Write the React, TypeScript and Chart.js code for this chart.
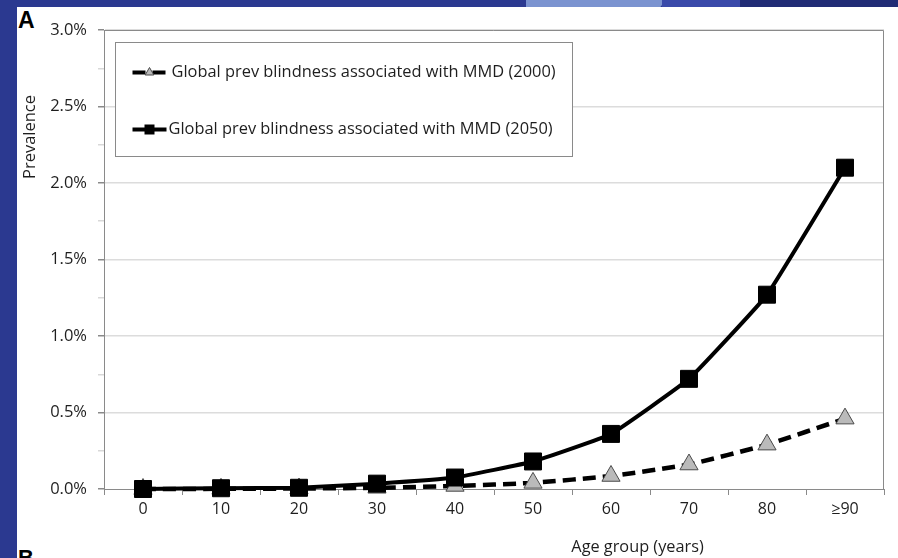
import React, { useEffect, useRef } from "react";
import { Chart, registerables } from "chart.js";

Chart.register(...registerables);

const categories = ["0", "10", "20", "30", "40", "50", "60", "70", "80", "≥90"];
const prev2000 = [0.0, 0.001, 0.003, 0.008, 0.02, 0.04, 0.085, 0.16, 0.29, 0.46];
const prev2050 = [0.0, 0.005, 0.008, 0.035, 0.075, 0.18, 0.36, 0.72, 1.27, 2.1];
const seriesLabels = [
  "Global prev blindness associated with MMD (2000)",
  "Global prev blindness associated with MMD (2050)",
];
const yTitle = "Prevalence";
const xTitle = "Age group (years)";

const FONT = "'Open Sans', 'Noto Sans', sans-serif";

const framePlugin = {
  id: "frame",
  afterDatasetsDraw(chart: any) {
    const { ctx, chartArea: a } = chart;
    ctx.save();
    ctx.strokeStyle = "#8a8a8a";
    ctx.lineWidth = 1;
    ctx.beginPath();
    ctx.moveTo(a.left, a.top + 0.5);
    ctx.lineTo(a.right - 0.5, a.top + 0.5);
    ctx.lineTo(a.right - 0.5, a.bottom);
    ctx.stroke();
    ctx.restore();
  },
  afterDraw(chart: any) {
    const { ctx, chartArea: a } = chart;
    ctx.save();
    ctx.fillStyle = "#1e1e1e";
    ctx.font = `16.3px ${FONT}`;
    ctx.textAlign = "center";
    ctx.textBaseline = "middle";
    ctx.fillText(xTitle, a.left + (a.right - a.left) * 0.684, a.bottom + 58);
    ctx.font = `16.5px ${FONT}`;
    ctx.translate(a.left - 74, a.top + 107);
    ctx.rotate(-Math.PI / 2);
    ctx.fillText(yTitle, 0, 0);
    ctx.restore();

    // legend
    ctx.save();
    const bx = a.left + 11.5;
    const by = a.top + 12.5;
    const bw = 457;
    const bh = 114;
    ctx.fillStyle = "#ffffff";
    ctx.fillRect(bx, by, bw, bh);
    ctx.strokeStyle = "#8a8a8a";
    ctx.lineWidth = 1;
    ctx.strokeRect(bx, by, bw, bh);
    const rows = [by + 30, by + 87];
    chart.data.datasets.forEach((ds: any, i: number) => {
      const y = rows[i];
      const x0 = bx + 17;
      const x1 = bx + 51;
      const cx = (x0 + x1) / 2;
      ctx.save();
      ctx.strokeStyle = ds.borderColor;
      ctx.lineWidth = 4;
      ctx.setLineDash(ds.borderDash && ds.borderDash.length ? [13, 7] : []);
      ctx.beginPath();
      ctx.moveTo(x0, y);
      ctx.lineTo(x1, y);
      ctx.stroke();
      ctx.restore();
      ctx.save();
      ctx.fillStyle = ds.pointBackgroundColor;
      ctx.strokeStyle = ds.pointBorderColor;
      ctx.lineWidth = 1;
      ctx.beginPath();
      if (ds.pointStyle === "triangle") {
        const r = 5;
        ctx.moveTo(cx, y - r);
        ctx.lineTo(cx + r * 0.866, y + r * 0.5);
        ctx.lineTo(cx - r * 0.866, y + r * 0.5);
        ctx.closePath();
        ctx.fill();
        ctx.stroke();
      } else {
        ctx.rect(cx - 5, y - 5, 10, 10);
        ctx.fill();
      }
      ctx.restore();
      ctx.fillStyle = "#1e1e1e";
      ctx.font = `16.4px ${FONT}`;
      ctx.textAlign = "left";
      ctx.textBaseline = "middle";
      ctx.fillText(ds.label, i === 0 ? bx + 56 : bx + 53, y);
    });
    ctx.restore();
  },
};

export default function App() {
  const ref = useRef<HTMLCanvasElement>(null);
  useEffect(() => {
    if (!ref.current) return;
    const chart = new Chart(ref.current, {
      type: "line",
      data: {
        labels: categories,
        datasets: [
          {
            label: seriesLabels[0],
            data: prev2000,
            borderColor: "#000000",
            borderWidth: 4.5,
            borderDash: [13, 7],
            tension: 0.12,
            pointStyle: "triangle",
            pointRadius: 10.5,
            pointHoverRadius: 10.5,
            pointBackgroundColor: "#bababa",
            pointBorderColor: "#4a4a4a",
            pointBorderWidth: 1,
            clip: false,
            order: 2,
          } as any,
          {
            label: seriesLabels[1],
            data: prev2050,
            borderColor: "#000000",
            borderWidth: 4,
            tension: 0.1,
            pointStyle: "rect",
            pointRadius: 12,
            pointHoverRadius: 12,
            pointBackgroundColor: "#000000",
            pointBorderColor: "#000000",
            pointBorderWidth: 1,
            clip: false,
            order: 1,
          } as any,
        ],
      },
      options: {
        animation: false,
        responsive: false,
        events: [],
        layout: { padding: { top: 30, right: 14, left: 0, bottom: 0 } },
        plugins: { legend: { display: false }, tooltip: { enabled: false } },
        scales: {
          x: {
            type: "category",
            offset: true,
            afterFit: (s: any) => {
              s.height = 69;
            },
            grid: {
              offset: true,
              drawOnChartArea: false,
              color: "#8a8a8a",
              tickColor: "#8a8a8a",
              tickLength: 6,
            },
            border: { color: "#8a8a8a", width: 1 },
            ticks: {
              color: "#1e1e1e",
              font: { family: FONT, size: 16 },
              padding: 5,
              autoSkip: false,
              maxRotation: 0,
            },
          },
          y: {
            min: 0,
            max: 3,
            afterFit: (s: any) => {
              s.width = 104;
            },
            afterBuildTicks: (s: any) => {
              const t = [];
              for (let i = 0; i <= 12; i++) t.push({ value: i * 0.25 });
              s.ticks = t;
            },
            grid: {
              color: (c: any) =>
                c.tick && Math.abs((c.tick.value * 2) % 1) < 1e-9 && c.tick.value > 0
                  ? "#dcdcdc"
                  : "rgba(0,0,0,0)",
              tickColor: (c: any) =>
                c.tick && Math.abs((c.tick.value * 2) % 1) < 1e-9 ? "#8a8a8a" : "#d8d8d8",
              lineWidth: 1.5,
              tickLength: 6,
            },
            border: { color: "#8a8a8a", width: 1 },
            ticks: {
              color: "#1e1e1e",
              font: { family: FONT, size: 16.5 },
              padding: 11,
              autoSkip: false,
              callback: (v: any) =>
                Math.abs((Number(v) * 2) % 1) < 1e-9 ? Number(v).toFixed(1) + "%" : "",
            },
          },
        },
      },
      plugins: [framePlugin],
    });
    return () => chart.destroy();
  }, []);

  return (
    <div
      style={{
        position: "fixed",
        left: 0,
        top: 0,
        width: 898,
        height: 558,
        overflow: "hidden",
        background: "#2b3990",
      }}
    >
      <div style={{ position: "absolute", left: 526, top: 0, width: 140, height: 7, background: "#7b93d0", clipPath: "polygon(0 0, 100% 0, 96% 100%, 0 100%)" }} />
      <div style={{ position: "absolute", left: 662, top: 0, width: 78, height: 7, background: "#3a4aaa" }} />
      <div style={{ position: "absolute", left: 740, top: 0, width: 158, height: 7, background: "#212c75" }} />
      <div style={{ position: "absolute", left: 17, top: 7, width: 881, height: 551, background: "#ffffff" }} />
      <div style={{ position: "absolute", left: 18, top: 7, font: "bold 23px 'Liberation Sans', Arial, sans-serif", color: "#000" }}>A</div>
      <div style={{ position: "absolute", left: 18, top: 545, font: "bold 22px 'Liberation Sans', Arial, sans-serif", color: "#000" }}>B</div>
      <canvas ref={ref} width={898} height={558} style={{ position: "absolute", left: 0, top: 0, width: 898, height: 558 }} />
    </div>
  );
}
